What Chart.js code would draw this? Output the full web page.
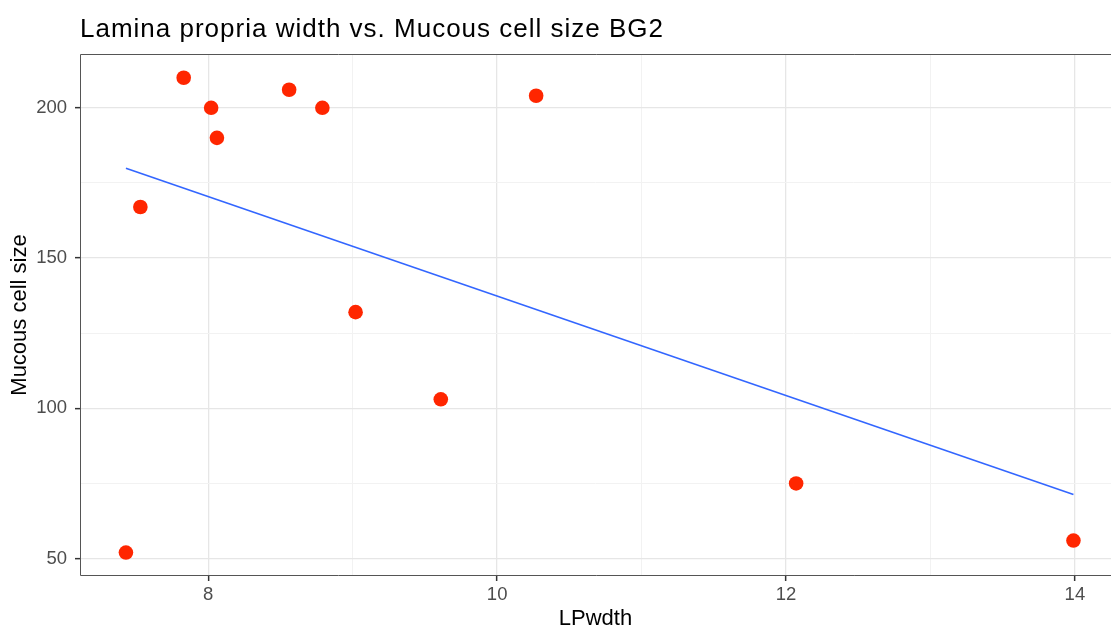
<!DOCTYPE html>
<html>
<head>
<meta charset="utf-8">
<script src="https://cdn.jsdelivr.net/npm/chart.js@4/dist/chart.umd.min.js"></script>
<style>
  html, body { margin: 0; padding: 0; background: #fff; overflow: hidden; }
</style>
</head>
<body>
<canvas id="lp_chart" width="1111" height="628"></canvas>
<script>
// values
var lpWidth  = [7.43, 7.53, 7.83, 8.02, 8.06, 8.56, 8.79, 9.02, 9.61, 10.27, 12.07, 13.99];
var cellSize = [52, 167, 210, 200, 190, 206, 200, 132, 103, 204, 75, 56];
// fitted line, end points as drawn
var fitX = [7.43, 13.99];
var fitY = [179.9, 71.3];
var xTicks = [8, 10, 12, 14];
var yTicks = [50, 100, 150, 200];

var font = "'Liberation Sans', Arial, sans-serif";

var points = lpWidth.map(function (v, i) { return { x: v, y: cellSize[i] }; });
var fitLine = fitX.map(function (v, i) { return { x: v, y: fitY[i] }; });

var panelPlugin = {
    id: 'panel',
    afterDraw: function (chart) {
        var c = chart.ctx, a = chart.chartArea;
        c.save();
        c.strokeStyle = '#555555';
        c.lineWidth = 1;
        c.beginPath();
        c.moveTo(a.right + 2, a.top + 0.5);
        c.lineTo(a.left + 0.5, a.top + 0.5);
        c.lineTo(a.left + 0.5, a.bottom - 0.5);
        c.lineTo(a.right + 2, a.bottom - 0.5);
        c.stroke();
        // title, aligned with the panel like ggplot
        c.fillStyle = '#000';
        c.font = '26px ' + font;
        c.letterSpacing = '1px';
        c.textAlign = 'left';
        c.textBaseline = 'alphabetic';
        c.fillText('Lamina propria width vs. Mucous cell size BG2', a.left, 37);
        c.restore();
    }
};

function isMajor(value, list) {
    return list.indexOf(value) !== -1;
}

var ctx = document.getElementById('lp_chart').getContext('2d');
var lpChart = new Chart(ctx, {
    type: 'scatter',
    data: {
        datasets: [
            {
                label: 'fit',
                type: 'line',
                data: fitLine,
                borderColor: '#3366FF',
                borderWidth: 1.6,
                pointRadius: 0,
                fill: false,
                order: 2
            },
            {
                label: 'Mucous cell size',
                data: points,
                backgroundColor: '#FF2600',
                borderColor: '#FF2600',
                borderWidth: 0,
                pointRadius: 7.3,
                order: 1
            }
        ]
    },
    options: {
        responsive: false,
        animation: false,
        plugins: {
            legend: { display: false },
            title: { display: false },
            tooltip: { enabled: false }
        },
        layout: {
            autoPadding: false,
            padding: { top: 54, right: 0, left: 0, bottom: 0 }
        },
        scales: {
            x: {
                type: 'linear',
                min: 7.112,
                max: 14.25,
                afterFit: function (scale) {
                    scale.height = 52;
                    scale.paddingLeft = 0;
                    scale.paddingRight = 0;
                },
                ticks: {
                    stepSize: 1,
                    includeBounds: false,
                    maxRotation: 0,
                    autoSkip: false,
                    padding: 3,
                    color: '#4d4d4d',
                    font: { family: font, size: 18.5 },
                    callback: function (v) { return isMajor(v, xTicks) ? String(v) : ''; }
                },
                grid: {
                    color: function (c) { return isMajor(c.tick.value, xTicks) ? '#e6e6e6' : '#f2f2f2'; },
                    lineWidth: function (c) { return isMajor(c.tick.value, xTicks) ? 1.3 : 1; },
                    tickColor: function (c) { return isMajor(c.tick.value, xTicks) ? '#333333' : 'rgba(0,0,0,0)'; },
                    tickLength: 5,
                    tickWidth: 1.5
                },
                border: { display: false },
                title: {
                    display: true,
                    text: 'LPwdth',
                    color: '#000',
                    font: { family: font, size: 22 },
                    padding: { top: 0, bottom: -4 }
                }
            },
            y: {
                type: 'linear',
                min: 44.2,
                max: 217.9,
                afterFit: function (scale) {
                    scale.width = 80;
                    scale.paddingTop = 0;
                    scale.paddingBottom = 0;
                },
                ticks: {
                    stepSize: 25,
                    includeBounds: false,
                    autoSkip: false,
                    padding: 8,
                    color: '#4d4d4d',
                    font: { family: font, size: 18.5 },
                    callback: function (v) { return isMajor(v, yTicks) ? String(v) : ''; }
                },
                grid: {
                    color: function (c) { return isMajor(c.tick.value, yTicks) ? '#e6e6e6' : '#f2f2f2'; },
                    lineWidth: function (c) { return isMajor(c.tick.value, yTicks) ? 1.3 : 1; },
                    tickColor: function (c) { return isMajor(c.tick.value, yTicks) ? '#333333' : 'rgba(0,0,0,0)'; },
                    tickLength: 5,
                    tickWidth: 1.5
                },
                border: { display: false },
                title: {
                    display: true,
                    text: 'Mucous cell size',
                    color: '#000',
                    font: { family: font, size: 22 },
                    padding: { top: 7, bottom: 0 }
                }
            }
        }
    },
    plugins: [panelPlugin]
});
</script>
</body>
</html>
